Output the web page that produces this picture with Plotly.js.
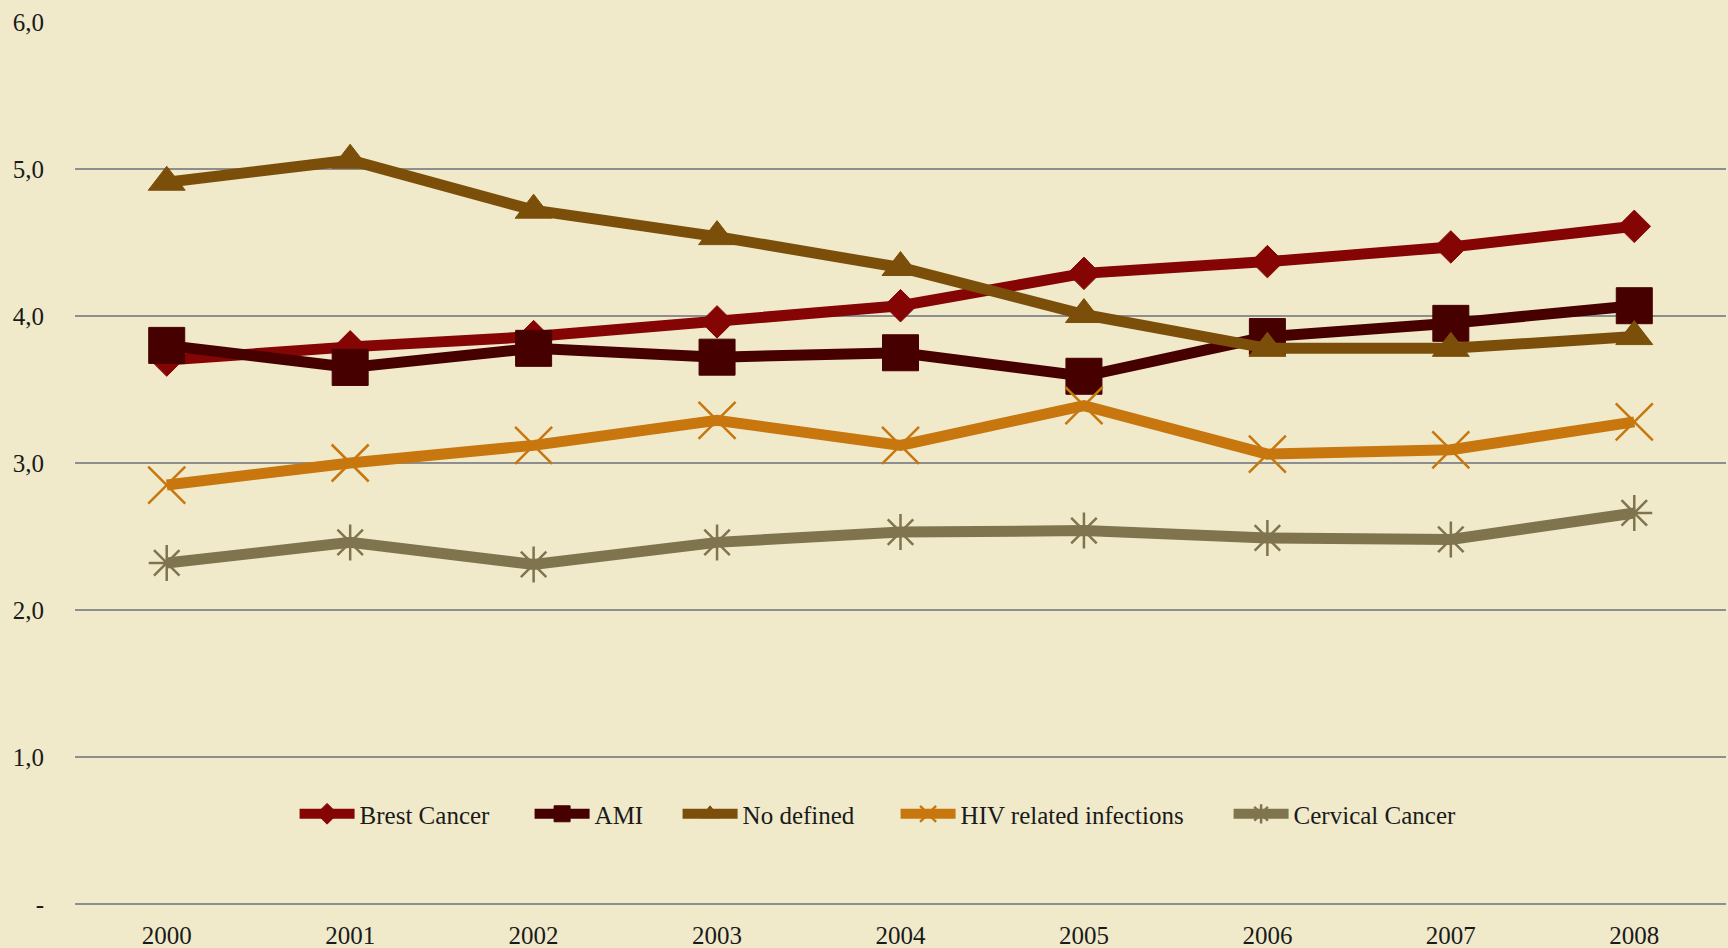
<!DOCTYPE html>
<html>
<head>
<meta charset="utf-8">
<script src="https://cdn.plot.ly/plotly-3.0.1.min.js"></script>
<style>
  html, body { margin: 0; padding: 0; background: #F0EACB; }
  #chart { width: 1728px; height: 948px; }
</style>
</head>
<body>
<div id="chart"></div>
<script>
const years = ['2000', '2001', '2002', '2003', '2004', '2005', '2006', '2007', '2008'];
const brestCancer = [3.70, 3.79, 3.86, 3.96, 4.07, 4.29, 4.37, 4.47, 4.61];
const ami = [3.80, 3.65, 3.78, 3.72, 3.75, 3.59, 3.86, 3.95, 4.07];
const noDefined = [4.91, 5.06, 4.72, 4.54, 4.33, 4.01, 3.78, 3.78, 3.86];
const hiv = [2.85, 3.00, 3.12, 3.29, 3.12, 3.39, 3.06, 3.09, 3.28];
const cervical = [2.32, 2.46, 2.31, 2.46, 2.53, 2.54, 2.49, 2.48, 2.66];
const yTickVals = [0, 1, 2, 3, 4, 5, 6];
const yTickText = ['-', '1,0', '2,0', '3,0', '4,0', '5,0', '6,0'];

function series(name, y, color, symbol, size, open, lw) {
  return {
    type: 'scatter', mode: 'lines+markers', name: name,
    x: years, y: y,
    line: { color: color, width: 11 },
    marker: open
      ? { symbol: symbol, size: size, color: color, line: { color: color, width: 2.5 } }
      : { symbol: symbol, size: size, color: color, line: { color: color, width: 1 } },
    legendwidth: lw,
    hoverinfo: 'x+y+name'
  };
}

const data = [
  series('Brest Cancer', brestCancer, '#850505', 'diamond', 25, false, 165),
  series('AMI', ami, '#470000', 'square', 36, false, 78),
  series('No defined', noDefined, '#7B4F0A', 'triangle-up', 32, false, 148),
  series('HIV related infections', hiv, '#C8760E', 'x-thin-open', 37, true, 263),
  series('Cervical Cancer', cervical, '#80744F', 'asterisk-open', 30, true, 190)
];

const layout = {
  width: 1728, height: 948,
  paper_bgcolor: '#F0EACB', plot_bgcolor: 'rgba(0,0,0,0)',
  margin: { l: 75, r: 2, t: 22, b: 44 },
  font: { family: '"Liberation Serif", "DejaVu Serif", serif', color: '#1a1a1a', size: 25 },
  xaxis: {
    type: 'category', range: [-0.5, 8.5],
    showgrid: false, zeroline: false, showline: false,
    ticks: '', ticklabelstandoff: 14,
    tickfont: { size: 25 }
  },
  yaxis: {
    range: [0, 6], tickvals: yTickVals, ticktext: yTickText,
    showgrid: true, gridcolor: '#8E8E8E', gridwidth: 2.2,
    zeroline: true, zerolinecolor: '#8E8E8E', zerolinewidth: 2.2,
    showline: false, ticks: '', ticklabelstandoff: 30,
    tickfont: { size: 25 }
  },
  legend: {
    orientation: 'h', x: 0.133, xanchor: 'left', y: 0.102, yanchor: 'middle',
    bgcolor: 'rgba(0,0,0,0)', font: { size: 25 }, itemwidth: 55
  },
  showlegend: true
};

Plotly.newPlot('chart', data, layout, { displayModeBar: false, staticPlot: true });
</script>
</body>
</html>
